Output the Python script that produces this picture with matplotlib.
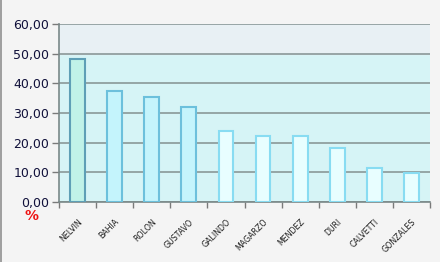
import numpy as np
import matplotlib.pyplot as plt
from matplotlib.lines import Line2D

names = ["NELVIN", "BAHIA", "ROLON", "GUSTAVO", "GALINDO",
         "MAGARZO", "MENDEZ", "DURI", "CALVETTI", "GONZALES"]
values = [48.2, 37.3, 35.3, 31.9, 23.9, 22.1, 22.1, 18.1, 11.4, 9.9]
# three colour groups as in the original
fills = ["#c0f2e8"] + ["#c4f4fc"] * 3 + ["#e8feff"] * 6
edges = ["#5e9fb6"] + ["#6cc0dc"] * 3 + ["#88dcf2"] * 6
yticks = [0, 10, 20, 30, 40, 50, 60]

fig = plt.figure(figsize=(4.4, 2.62), dpi=100, facecolor="#f4f4f4")
ax = fig.add_axes([59 / 440, 1 - 202 / 262, 371 / 440, 178 / 262])
ax.set_facecolor("#d6f4f6")
ax.axhspan(50, 60, color="#e8f0f4", zorder=0)

x = np.arange(len(names))
ax.bar(x, values, width=0.4, color=fills, edgecolor=edges, linewidth=1.5, zorder=3)

ax.set_xlim(-0.5, len(names) - 0.5)
ax.set_ylim(0, 60)
ax.set_yticks(yticks)
ax.set_yticklabels([f"{v:.2f}".replace(".", ",") for v in yticks],
                   fontsize=9, color="#10103a")
ax.yaxis.grid(True, color="#8a9898", linewidth=1.2, zorder=1)
ax.set_axisbelow(True)

ax.set_xticks(x)
ax.set_xticklabels(names, rotation=45, ha="right", va="top",
                   fontsize=5.7, color="#202020", rotation_mode="anchor")
ax.tick_params(axis="x", which="major", length=0, pad=11)
ax.set_xticks(np.arange(-0.5, len(names)), minor=True)
ax.tick_params(axis="x", which="minor", length=4, color="#7a7a7a", width=1)
ax.tick_params(axis="y", length=5, color="#7a7a7a", width=1, pad=2)

for s in ["top", "right"]:
    ax.spines[s].set_visible(False)
for s in ["left", "bottom"]:
    ax.spines[s].set_color("#7a8888")
    ax.spines[s].set_linewidth(1.2)

fig.text(31 / 440, 1 - 209 / 262, "%", color="#ee1111", fontsize=10,
         ha="center", va="top", fontweight="bold")
fig.add_artist(Line2D([0.002, 0.002], [0, 1], color="#909090", linewidth=1.2))

fig.savefig("out.png", dpi=100, facecolor=fig.get_facecolor())
